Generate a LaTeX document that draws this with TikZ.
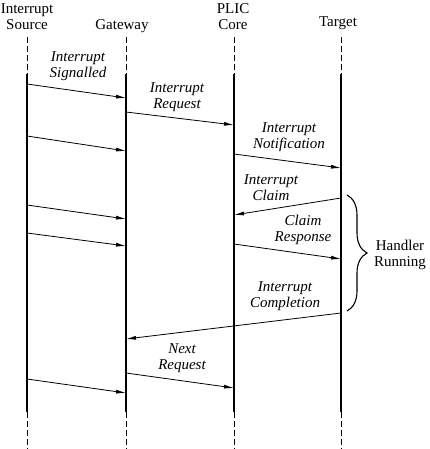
\documentclass[tikz,border=0pt]{standalone}
\usepackage{fontspec}
\setmainfont{Liberation Serif}
\usetikzlibrary{arrows.meta, decorations.pathreplacing, positioning}

\begin{document}
\begin{tikzpicture}[
  x=1pt, y=-1pt,
  font=\fontsize{15}{16}\selectfont,
  life/.style={line width=1.4pt},
  stub/.style={line width=0.8pt, dash pattern=on 6pt off 3pt},
  msg/.style={line width=0.8pt, -{Latex[length=10pt,width=4pt]}},
  lbl/.style={align=center, inner sep=0pt, font=\fontsize{15}{16}\selectfont\itshape}]

  \useasboundingbox (0,0) rectangle (430,449);

  % headers
  \node[align=center, inner sep=0pt] (src) at (27,17) {Interrupt\\Source};
  \node[inner sep=0pt] (gw) at (122,26) {Gateway};
  \node[align=center, inner sep=0pt] (plic) at (233,17) {PLIC\\Core};
  \node[inner sep=0pt] (tgt) at (338,23) {Target};

  % lifelines
  \foreach \n/\x in {src/27, gw/126, plic/234, tgt/341}{
    \coordinate (\n a) at (\x,37);
    \coordinate (\n b) at (\x,74);
    \coordinate (\n c) at (\x,412);
    \coordinate (\n d) at (\x,449);
    \draw[stub] (\n a) -- (\n b);
    \draw[life] (\n b) -- (\n c);
    \draw[stub] (\n c) -- (\n d);
  }

  % messages
  \foreach \m/\a/\ya/\b/\yb in {1/src/84/gw/98, 2/gw/112/plic/125, 3/src/136/gw/151,
      4/plic/154/tgt/168, 5/tgt/198/plic/215, 6/src/205/gw/219, 7/src/233/gw/246,
      8/plic/244/tgt/259, 9/tgt/313/gw/339, 10/gw/373/plic/388, 11/src/379/gw/393}{
    \coordinate (m\m s) at (\a a |- 0,\ya);
    \coordinate (m\m e) at (\b a |- 0,\yb);
    \draw[msg] (m\m s) -- (m\m e);
  }

  % message labels
  \node[lbl] (sig) at (78,66) {Interrupt\\Signalled};
  \node[lbl] (req) at (177,97) {Interrupt\\Request};
  \node[lbl] (note) at (289,137) {Interrupt\\Notification};
  \node[lbl] (claim) at (271,188) {Interrupt\\Claim};
  \node[lbl] (resp) at (303,230) {Claim\\Response};
  \node[lbl] (compl) at (285,296) {Interrupt\\Completion};
  \node[lbl] (next) at (182,358) {Next\\Request};

  % handler brace
  \coordinate (hr top) at (347,195);
  \coordinate (hr bot) at (347,311);
  \draw[line width=1.1pt, decorate, decoration={brace, amplitude=20pt}] (hr top) -- (hr bot);
  \node[align=center, inner sep=0pt] (hr) at (400,255) {Handler\\Running};
\end{tikzpicture}
\end{document}
